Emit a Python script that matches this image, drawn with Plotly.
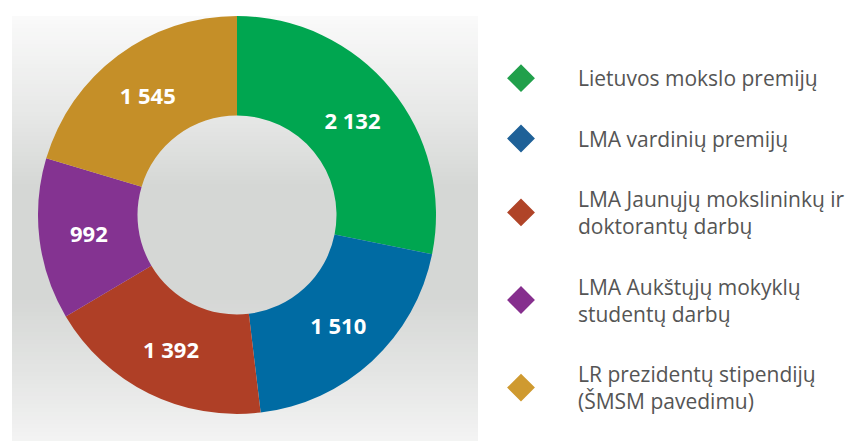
import plotly.graph_objects as go

# ---- data ----
labels = [
    "Lietuvos mokslo premijų",
    "LMA vardinių premijų",
    "LMA Jaunųjų mokslininkų ir<br>doktorantų darbų",
    "LMA Aukštųjų mokyklų<br>studentų darbų",
    "LR prezidentų stipendijų<br>(ŠMSM pavedimu)",
]
values = [2132, 1510, 1392, 992, 1545]
slice_colors = ["#00a650", "#006ba3", "#af3f26", "#843391", "#c58f28"]
legend_colors = ["#21a04b", "#1f6198", "#b04428", "#862f8e", "#cf9a30"]

fig = go.Figure()

fig.add_trace(go.Pie(
    labels=labels,
    values=values,
    hole=0.5,
    sort=False,
    direction="clockwise",
    rotation=0,
    marker=dict(colors=slice_colors, line=dict(width=0)),
    textposition="inside",
    insidetextorientation="horizontal",
    texttemplate="%{value:,}",
    textfont=dict(family="Open Sans", size=22, color="white", weight="bold"),
    showlegend=False,
    domain=dict(x=[0.03517, 0.50176], y=[0.0794, 0.9819]),
    hoverinfo="label+value",
))

# legend proxies (diamonds)
for i, (lab, col) in enumerate(zip(labels, legend_colors)):
    fig.add_trace(go.Scatter(
        x=[None], y=[None], mode="markers", name=lab,
        legendgroup=f"g{i}",
        marker=dict(symbol="diamond", size=16, color=col, line=dict(width=5, color=col)),
    ))

# background gradient panel
def lerp(c1, c2, t):
    return tuple(round(a + (b - a) * t) for a, b in zip(c1, c2))

stops = [(8, (250, 250, 250)), (100, (232, 233, 232)), (180, (213, 215, 213)),
         (290, (213, 215, 213)), (370, (229, 230, 229)), (441, (245, 245, 245))]

def color_at(y):
    for (y0, c0), (y1, c1) in zip(stops[:-1], stops[1:]):
        if y0 <= y <= y1:
            return lerp(c0, c1, (y - y0) / (y1 - y0))
    return stops[-1][1]

W, H = 853, 441
shapes = []
y = 8
step = 4
while y < H:
    y2 = min(y + step, H)
    c = color_at((y + y2) / 2)
    shapes.append(dict(type="rect", xref="paper", yref="paper",
                       x0=4 / W, x1=470 / W, y0=1 - y2 / H, y1=1 - y / H,
                       fillcolor=f"rgb{c}", line=dict(width=0), layer="below"))
    y = y2

fig.update_layout(
    width=W, height=H,
    margin=dict(l=0, r=0, t=0, b=0),
    paper_bgcolor="white",
    plot_bgcolor="white",
    separators=", ",
    shapes=shapes,
    xaxis=dict(visible=False), yaxis=dict(visible=False),
    legend=dict(
        x=456 / W, xanchor="left", y=1 - 50 / H, yanchor="top",
        font=dict(family="Open Sans", size=21, color="#555555"),
        traceorder="grouped", tracegroupgap=30,
        itemwidth=104, bgcolor="rgba(0,0,0,0)",
    ),
)

fig.write_html("out.html")
